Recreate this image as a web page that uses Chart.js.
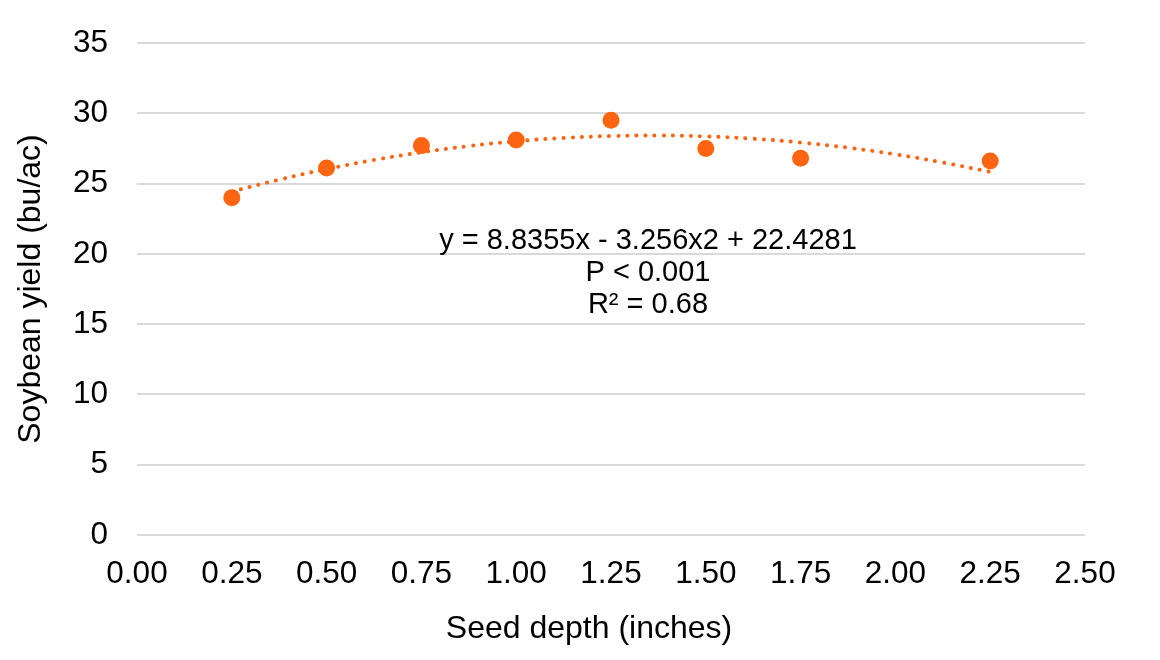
<!DOCTYPE html>
<html>
<head>
<meta charset="utf-8">
<script src="https://cdn.jsdelivr.net/npm/chart.js@4/dist/chart.umd.min.js"></script>
<style>
  html, body { margin: 0; padding: 0; background: #fff; }
  #wrap { width: 1160px; height: 660px; }
</style>
</head>
<body>
<div id="wrap"><canvas id="yieldChart"></canvas></div>
<script>
// measured points: seed depth (inches) vs soybean yield (bu/ac)
const seedDepth = [0.25, 0.5, 0.75, 1.0, 1.25, 1.5, 1.75, 2.25];
const soyYield = [24.0, 26.1, 27.7, 28.1, 29.5, 27.5, 26.8, 26.6];

// dotted trend curve
const trendX = [0.25, 0.375, 0.5, 0.625, 0.75, 0.875, 1.0, 1.125, 1.25, 1.375, 1.5, 1.625, 1.75, 1.875, 2.0, 2.125, 2.25];
const trendY = [24.43, 25.28, 26.03, 26.68, 27.22, 27.67, 28.01, 28.25, 28.38, 28.42, 28.36, 28.19, 27.92, 27.55, 27.08, 26.50, 25.83];

const annotationLines = ['y = 8.8355x - 3.256x2 + 22.4281', 'P < 0.001', 'R\u00B2 = 0.68'];
const xTitle = 'Seed depth (inches)';
const yTitle = 'Soybean yield (bu/ac)';

const orange = '#ff6410';
const fontFamily = '"Liberation Sans", Arial, sans-serif';

// equation text and axis titles, placed by hand like in the original
const textPlugin = {
    id: 'extraText',
    afterDraw(chart) {
        const ctx = chart.ctx;
        const area = chart.chartArea;
        ctx.save();
        ctx.fillStyle = '#000';
        ctx.textAlign = 'center';

        ctx.font = '29px ' + fontFamily;
        ctx.textBaseline = 'middle';
        const cx = area.left + (area.right - area.left) * 0.539;
        annotationLines.forEach((line, i) => {
            ctx.fillText(line, cx, area.top + 198 + i * 32);
        });

        ctx.font = '32px ' + fontFamily;
        ctx.textBaseline = 'alphabetic';
        ctx.fillText(xTitle, 589, 638);

        ctx.translate(40, (area.top + area.bottom) / 2);
        ctx.rotate(-Math.PI / 2);
        ctx.fillText(yTitle, 0, 0);
        ctx.restore();
    }
};

const ctx = document.getElementById('yieldChart').getContext('2d');
new Chart(ctx, {
    type: 'scatter',
    data: {
        datasets: [{
            label: 'Trend',
            type: 'line',
            data: trendX.map((x, i) => ({x: x, y: trendY[i]})),
            borderColor: orange,
            borderWidth: 4,
            borderDash: [0.1, 9],
            borderCapStyle: 'round',
            pointRadius: 0,
            fill: false,
            tension: 0.4,
            order: 2
        }, {
            label: 'Yield',
            data: seedDepth.map((x, i) => ({x: x, y: soyYield[i]})),
            backgroundColor: orange,
            borderColor: orange,
            pointRadius: 8.5,
            pointBorderWidth: 0,
            order: 1
        }]
    },
    options: {
        responsive: true,
        maintainAspectRatio: false,
        animation: false,
        layout: { padding: { left: 10, right: 75, top: 43, bottom: 10 } },
        plugins: {
            legend: { display: false },
            tooltip: { enabled: false }
        },
        scales: {
            x: {
                type: 'linear',
                min: 0,
                max: 2.5,
                grid: { display: false, drawTicks: false },
                border: { display: false },
                ticks: {
                    stepSize: 0.25,
                    padding: 20,
                    color: '#000',
                    font: { family: fontFamily, size: 31.5 },
                    maxRotation: 0,
                    callback: v => v.toFixed(2)
                },
                afterFit: scale => {
                    scale.height = 115;
                    scale.paddingLeft = 0;
                    scale.paddingRight = 0;
                }
            },
            y: {
                min: 0,
                max: 35,
                grid: { color: '#d9d9d9', lineWidth: 2, drawTicks: false },
                border: { display: false },
                ticks: {
                    stepSize: 5,
                    padding: 29,
                    color: '#000',
                    font: { family: fontFamily, size: 31.5 }
                },
                afterFit: scale => {
                    scale.width = 127;
                    scale.paddingTop = 0;
                    scale.paddingBottom = 0;
                }
            }
        }
    },
    plugins: [textPlugin]
});
</script>
</body>
</html>
